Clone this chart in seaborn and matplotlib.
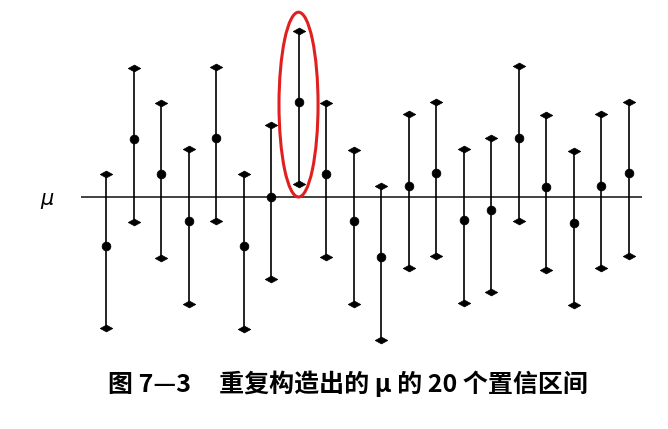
import numpy as np
import pandas as pd
import seaborn as sns
import matplotlib
matplotlib.use('Agg')
import matplotlib.pyplot as plt
from matplotlib.path import Path as MPath
from matplotlib.patches import Ellipse

sns.set_theme(style='white')
plt.rcParams['font.family'] = ['Noto Sans CJK SC', 'DejaVu Sans']

# 20 intervals (mu = 0, arbitrary units)
sample_no = list(range(1, 21))
sample_means = [-1.225, 1.45, 0.575, -0.6, 1.475, -1.225, 0.0, 2.375, 0.575, -0.6,
                -1.5, 0.275, 0.6, -0.575, -0.325, 1.475, 0.25, -0.65, 0.275, 0.6]
upper = [0.575, 3.225, 2.35, 1.2, 3.25, 0.575, 1.8, 4.15, 2.35, 1.175,
         0.275, 2.075, 2.375, 1.2, 1.475, 3.275, 2.05, 1.15, 2.075, 2.375]
lower = [-3.275, -0.625, -1.525, -2.675, -0.6, -3.3, -2.05, 0.325, -1.5, -2.675,
         -3.575, -1.775, -1.475, -2.65, -2.375, -0.6, -1.825, -2.7, -1.775, -1.475]
mu = 0.0
highlighted = 8  # the interval that misses mu
caption = '图 7—3     重复构造出的 μ 的 20 个置信区间'

df = pd.DataFrame({'sample': sample_no, 'mean': sample_means,
                   'lower': lower, 'upper': upper})
ends = pd.concat([df[['sample', 'lower']].rename(columns={'lower': 'y'}),
                  df[['sample', 'upper']].rename(columns={'upper': 'y'})])

# flat diamond for the interval end points
flat_diamond = MPath([(-1, 0), (0, 0.55), (1, 0), (0, -0.55), (-1, 0)],
                     [MPath.MOVETO, MPath.LINETO, MPath.LINETO, MPath.LINETO, MPath.CLOSEPOLY])

fig = plt.figure(figsize=(6.68, 4.29), dpi=100)
ax = fig.add_axes([81 / 668, 1 - 350 / 429, (642 - 81) / 668, (350 - 15) / 429])

ax.axhline(mu, color='#333333', lw=1.3, zorder=1)
ax.vlines(df['sample'], df['lower'], df['upper'], color='black', lw=1.2, zorder=2)
sns.scatterplot(data=ends, x='sample', y='y', marker=flat_diamond, s=80,
                color='black', edgecolor='black', linewidth=0.5, ax=ax, zorder=3)
sns.scatterplot(data=df, x='sample', y='mean', marker='o', s=40,
                color='black', edgecolor='black', linewidth=0.5, ax=ax, zorder=3)

hl = df[df['sample'] == highlighted].iloc[0]
ax.add_patch(Ellipse((hl['sample'], 2.31), width=1.42, height=4.62,
                     fill=False, edgecolor='#e02020', lw=2.2, zorder=4, clip_on=False))

ax.set_xlim(0.09, 20.49)
ax.set_ylim(-3.825, 4.55)
ax.axis('off')

fig.text(47 / 668, 1 - 199 / 429, 'μ', fontsize=15, style='italic', color='black',
         family='DejaVu Sans', ha='center', va='center')
fig.text(348 / 668, 1 - 384 / 429, caption, fontsize=18, fontweight='bold',
         color='black', ha='center', va='center')

fig.savefig('out.png', dpi=100, facecolor='white')
